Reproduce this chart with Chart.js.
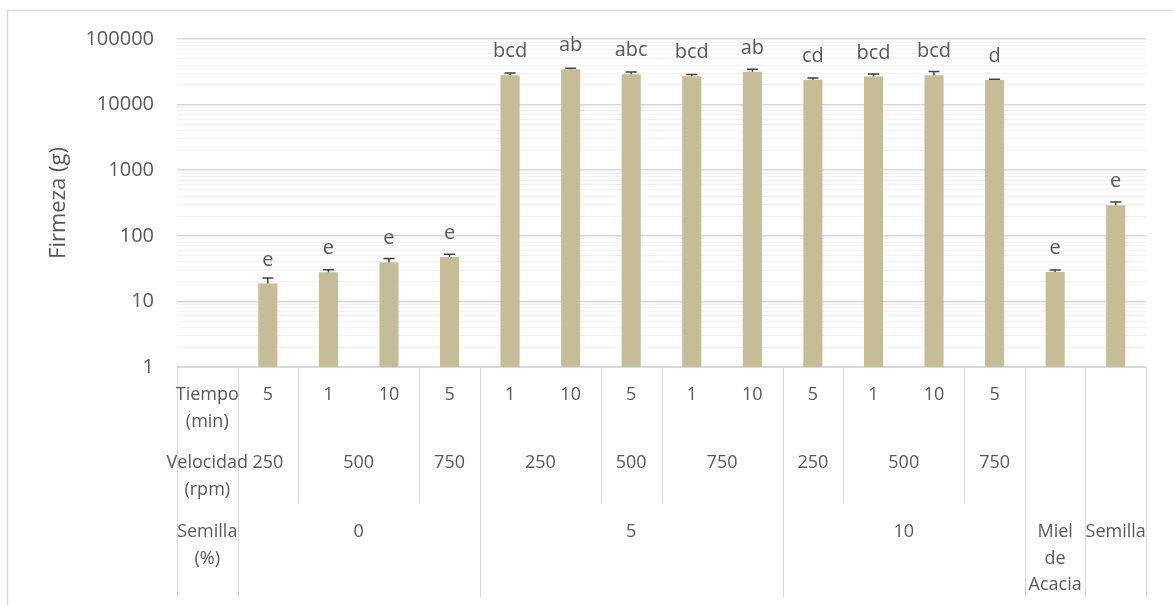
<!DOCTYPE html>
<html>
<head>
<meta charset="utf-8">
<script src="https://cdn.jsdelivr.net/npm/chart.js@4.4.0/dist/chart.umd.min.js"></script>
<style>
  body { margin: 0; background: #fff; }
</style>
</head>
<body>
<canvas id="firmeza" width="1173" height="605"></canvas>
<script>
// valores (escala log)
const firmeza = [18.7, 27.8, 39.4, 47.5, 28000, 34500, 29000, 27000, 31800, 24000, 26700, 28000, 23700, 28, 292];
const errorSup = [4, 2.7, 5.5, 4.7, 2300, 1250, 2400, 1650, 2700, 1400, 2550, 3850, 600, 2, 35];
const letras = ['e', 'e', 'e', 'e', 'bcd', 'ab', 'abc', 'bcd', 'ab', 'cd', 'bcd', 'bcd', 'd', 'e', 'e'];

// niveles del eje x
const tiempo = ['5', '1', '10', '5', '1', '10', '5', '1', '10', '5', '1', '10', '5', '', ''];
const velocidad = ['250', '500', '750', '250', '500', '750', '250', '500', '750', '', ''];
const velocidadSpan = [1, 2, 1, 2, 1, 2, 1, 2, 1, 1, 1];
const semilla = ['0', '5', '10', 'Miel de Acacia', 'Semilla'];
const semillaSpan = [4, 5, 4, 1, 1];
const encabezados = ['Tiempo (min)', 'Velocidad (rpm)', 'Semilla (%)'];

const yTicks = [1, 10, 100, 1000, 10000, 100000];

const gris = '#595959';
const fuente = '"Open Sans", sans-serif';

// primera columna vacia = encabezados de la tabla
const labels = [''].concat(tiempo);
const valores = [null].concat(firmeza);

function wrap(ctx, text, maxW) {
  const words = text.split(' ');
  const lines = [];
  let cur = '';
  words.forEach(w => {
    const t = cur ? cur + ' ' + w : w;
    if (cur && ctx.measureText(t).width > maxW) {
      lines.push(cur);
      cur = w;
    } else {
      cur = t;
    }
  });
  if (cur) lines.push(cur);
  return lines;
}

const extras = {
  id: 'extras',
  afterDatasetsDraw(chart) {
    const ctx = chart.ctx;
    const x = chart.scales.x;
    const y = chart.scales.y;
    ctx.save();
    // barras de error
    ctx.strokeStyle = '#404040';
    ctx.lineWidth = 1.5;
    firmeza.forEach((v, i) => {
      const px = x.getPixelForValue(i + 1);
      const yTop = y.getPixelForValue(v);
      const yErr = y.getPixelForValue(v + errorSup[i]);
      ctx.beginPath();
      ctx.moveTo(px, yTop);
      ctx.lineTo(px, yErr);
      ctx.moveTo(px - 5.5, yErr);
      ctx.lineTo(px + 5.5, yErr);
      ctx.stroke();
    });
    // letras
    ctx.fillStyle = gris;
    ctx.font = '20px ' + fuente;
    ctx.textAlign = 'center';
    ctx.textBaseline = 'alphabetic';
    firmeza.forEach((v, i) => {
      ctx.fillText(letras[i], x.getPixelForValue(i + 1), y.getPixelForValue(v) - 18);
    });
    ctx.restore();
  },
  afterDraw(chart) {
    const ctx = chart.ctx;
    const x = chart.scales.x;
    const area = chart.chartArea;
    const colW = x.getPixelForValue(1) - x.getPixelForValue(0);
    const colL = i => x.getPixelForValue(i) - colW / 2;
    const b = area.bottom;
    const lh = 26.5;
    const rowY = [b + 28, b + 96, b + 165];
    const bot2 = b + 136;
    const bot3 = b + 230;

    ctx.save();
    // borde exterior
    ctx.strokeStyle = '#d9d9d9';
    ctx.lineWidth = 1.5;
    ctx.beginPath();
    ctx.moveTo(7.5, 700);
    ctx.lineTo(7.5, 10.5);
    ctx.lineTo(1200, 10.5);
    ctx.stroke();

    // eje x y lineas de la tabla
    ctx.lineWidth = 1;
    const vline = (px, y2) => {
      ctx.beginPath();
      ctx.moveTo(Math.round(px) + 0.5, b);
      ctx.lineTo(Math.round(px) + 0.5, y2);
      ctx.stroke();
    };
    ctx.beginPath();
    ctx.moveTo(colL(0), Math.round(b) + 0.5);
    ctx.lineTo(colL(labels.length), Math.round(b) + 0.5);
    ctx.stroke();
    vline(colL(0), bot3);
    vline(colL(1), bot3);
    let c = 1;
    velocidadSpan.forEach(s => { c += s; vline(colL(c), bot2); });
    c = 1;
    semillaSpan.forEach(s => { c += s; vline(colL(c), bot3); });

    // textos
    ctx.fillStyle = gris;
    ctx.font = '18px ' + fuente;
    ctx.textAlign = 'center';
    ctx.textBaseline = 'middle';
    const celda = (text, i0, span, row) => {
      const cx = colL(i0) + colW * span / 2;
      wrap(ctx, text, colW * span - 6).forEach((t, k) => {
        ctx.fillText(t, cx, rowY[row] + k * lh);
      });
    };
    encabezados.forEach((t, r) => celda(t, 0, 1, r));
    tiempo.forEach((t, i) => celda(t, i + 1, 1, 0));
    c = 1;
    velocidad.forEach((t, k) => { celda(t, c, velocidadSpan[k], 1); c += velocidadSpan[k]; });
    c = 1;
    semilla.forEach((t, k) => { celda(t, c, semillaSpan[k], 2); c += semillaSpan[k]; });
    ctx.restore();
  }
};

new Chart(document.getElementById('firmeza'), {
  type: 'bar',
  data: {
    labels: labels,
    datasets: [{
      label: 'Firmeza',
      data: valores,
      backgroundColor: '#c4bd97',
      borderWidth: 0,
      categoryPercentage: 1,
      barPercentage: 0.315
    }]
  },
  options: {
    responsive: false,
    animation: false,
    layout: { padding: { top: 39, right: 27, bottom: 238, left: 0 } },
    plugins: {
      legend: { display: false },
      tooltip: { enabled: false }
    },
    scales: {
      x: {
        display: false
      },
      y: {
        type: 'logarithmic',
        min: 1,
        max: 100000,
        afterFit(scale) { scale.width = 177; },
        afterBuildTicks(scale) {
          const t = [];
          yTicks.forEach((d, k) => {
            if (k === yTicks.length - 1) { t.push({ value: d }); return; }
            for (let m = 1; m < 10; m++) t.push({ value: d * m });
          });
          scale.ticks = t;
        },
        border: { display: false },
        grid: {
          drawTicks: false,
          color: c => yTicks.includes(c.tick.value) ? '#d9d9d9' : '#f2f2f2',
          lineWidth: c => yTicks.includes(c.tick.value) ? 1.5 : 1
        },
        ticks: {
          autoSkip: false,
          padding: 23,
          color: gris,
          font: { family: fuente, size: 20 },
          callback: v => yTicks.includes(v) ? String(v) : ''
        },
        title: {
          display: true,
          text: 'Firmeza (g)',
          color: gris,
          font: { family: fuente, size: 22 },
          padding: { top: 46, bottom: 0 }
        }
      }
    }
  },
  plugins: [extras]
});
</script>
</body>
</html>
